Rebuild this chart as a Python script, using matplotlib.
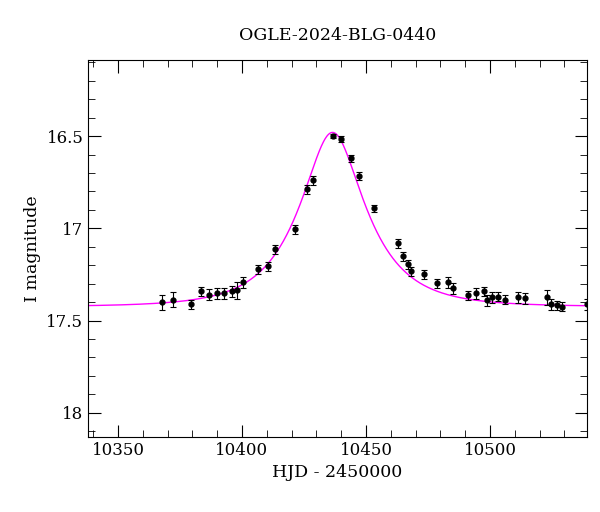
import numpy as np
import matplotlib
matplotlib.use("Agg")
import matplotlib.pyplot as plt
from matplotlib.ticker import MultipleLocator

hjd = [10367.7, 10372.2, 10379.4, 10383.5, 10386.7, 10389.9, 10392.7, 10395.9,
       10397.9, 10400.4, 10406.5, 10410.5, 10413.3, 10421.4, 10426.2, 10428.6,
       10436.7, 10439.9, 10443.9, 10447.2, 10453.2, 10462.9, 10464.9, 10466.9,
       10468.1, 10473.4, 10478.6, 10483.1, 10485.1, 10491.1, 10494.4, 10497.6,
       10498.8, 10500.8, 10503.2, 10506.0, 10511.3, 10514.1, 10523.0, 10524.6,
       10527.0, 10529.0, 10539.0]
mag = [17.402, 17.386, 17.413, 17.342, 17.359, 17.353, 17.353, 17.342,
       17.337, 17.293, 17.223, 17.207, 17.114, 17.005, 16.788, 16.739,
       16.500, 16.516, 16.620, 16.717, 16.891, 17.082, 17.152, 17.196,
       17.234, 17.250, 17.299, 17.293, 17.326, 17.364, 17.353, 17.342,
       17.391, 17.375, 17.370, 17.386, 17.375, 17.380, 17.375, 17.413,
       17.418, 17.424, 17.413]
err = [0.04, 0.04, 0.025, 0.025, 0.03, 0.03, 0.03, 0.03,
       0.045, 0.03, 0.025, 0.025, 0.025, 0.025, 0.025, 0.025,
       0.012, 0.015, 0.02, 0.02, 0.02, 0.025, 0.025, 0.025,
       0.025, 0.025, 0.025, 0.03, 0.03, 0.025, 0.03, 0.025,
       0.03, 0.03, 0.025, 0.025, 0.03, 0.03, 0.04, 0.03,
       0.025, 0.025, 0.03]

# point-lens model parameters
t0, tE, u0, base = 10436.5, 24.0, 0.45, 17.425

t = np.linspace(10330, 10545, 1000)
u = np.sqrt(u0**2 + ((t - t0) / tE)**2)
A = (u**2 + 2) / (u * np.sqrt(u**2 + 4))
model = base - 2.5 * np.log10(A)

plt.rcParams["font.family"] = "DejaVu Serif"
fig, ax = plt.subplots(figsize=(6, 5.12), dpi=100)
fig.subplots_adjust(left=0.147, right=0.978, top=0.883, bottom=0.147)

ax.plot(t, model, color="magenta", lw=1)
ax.errorbar(hjd, mag, yerr=err, fmt="o", ms=3.5, color="black",
            ecolor="black", elinewidth=0.8, capsize=2.5, capthick=0.8)

ax.set_xlim(10338, 10539)
ax.set_ylim(18.13, 16.087)
ax.xaxis.set_major_locator(MultipleLocator(50))
ax.xaxis.set_minor_locator(MultipleLocator(10))
ax.yaxis.set_major_locator(MultipleLocator(0.5))
ax.yaxis.set_minor_locator(MultipleLocator(0.1))
ax.yaxis.set_major_formatter(plt.FuncFormatter(lambda v, p: f"{v:g}"))
ax.tick_params(which="both", direction="in", top=True, right=True, labelsize=12)
ax.tick_params(which="major", length=9)
ax.tick_params(which="minor", length=5)

ax.set_title("OGLE-2024-BLG-0440", fontsize=12.5, pad=14)
ax.set_xlabel("HJD - 2450000", fontsize=12.5)
ax.set_ylabel("I magnitude", fontsize=12.5)

fig.savefig("out.png", dpi=100)
